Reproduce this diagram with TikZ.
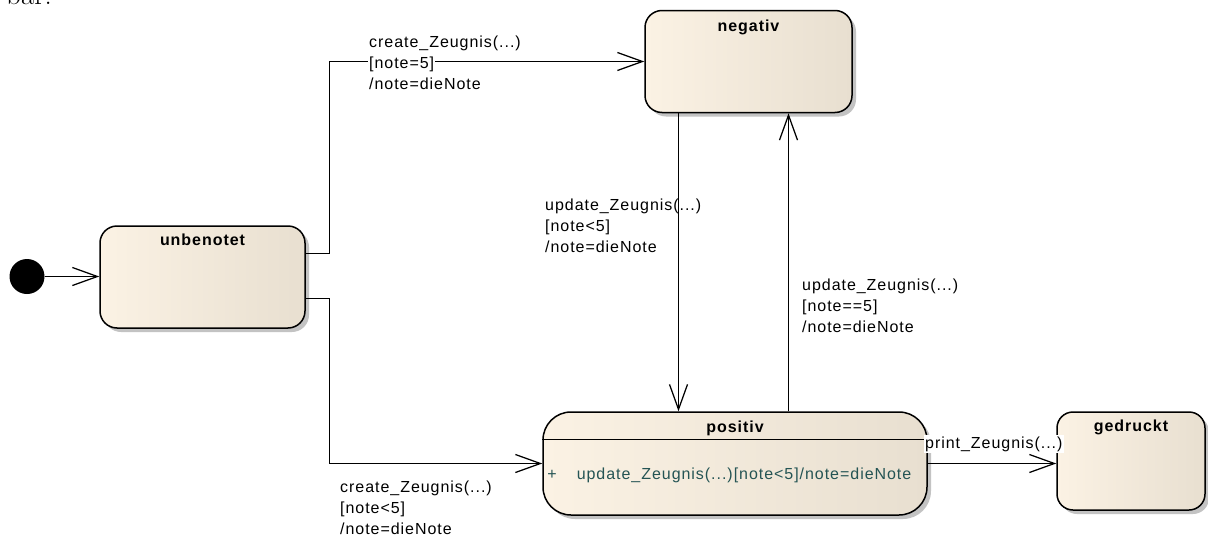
\documentclass[tikz,border=0pt]{standalone}
\usepackage{fontspec}
\setmainfont{Liberation Sans}[LetterSpace=6]
\usetikzlibrary{arrows.meta,shadows}

\definecolor{stateL}{RGB}{251,242,228}
\definecolor{stateR}{RGB}{232,223,208}
\definecolor{shadowgray}{RGB}{195,195,195}
\definecolor{opteal}{RGB}{36,84,84}

\begin{document}
\begin{tikzpicture}[
  x=1pt, y=-1pt,
  font=\fontsize{16}{21}\selectfont,
  state/.style={draw=black, line width=1.5pt, rounded corners=#1,
    left color=stateL, right color=stateR, inner sep=0pt,
    drop shadow={shadow xshift=4pt, shadow yshift=-4pt, fill=shadowgray, opacity=1}},
  title/.style={font=\fontsize{16}{20}\selectfont\bfseries, inner sep=0pt,
    text height=11.5pt, text depth=3pt},
  tr/.style={draw=black, line width=1.25pt, -{Straight Barb[length=25pt,width=18pt]}},
  guard/.style={align=left, anchor=north west, inner sep=0pt},
]
\useasboundingbox (0,0) rectangle (1208,538);

% running text of the page above the figure
\node[anchor=base west, inner sep=0pt, font=\fontfamily{lmr}\fontsize{29}{30}\selectfont] (bar) at (6,5) {bar.};

% initial pseudo state
\fill[black] (27,276.5) circle (17.5pt);
\coordinate (init) at (44.5,276.5);

% states
\node[state=17pt, minimum width=205pt, minimum height=102pt] (unb) at (202.5,277) {};
\node[state=17pt, minimum width=207pt, minimum height=102pt] (neg) at (748.5,61.5) {};
\node[state=28pt, minimum width=384pt, minimum height=103pt] (pos) at (735,463.5) {};
\node[state=16pt, minimum width=148pt, minimum height=98pt] (ged) at (1131,461) {};

\node[title] (unbT) at ([yshift=-16pt]unb.north) {unbenotet};
\node[title] (negT) at ([yshift=-17pt]neg.north) {negativ};
\node[title] (posT) at ([yshift=-17pt]pos.north) {positiv};
\node[title] (gedT) at ([yshift=-16pt]ged.north) {gedruckt};

% compartment of the state positiv
\draw[line width=1.3pt] ([yshift=-28pt]pos.north west) -- ([yshift=-28pt]pos.north east);
\node[anchor=west, inner sep=0pt, text=opteal] (posOp) at ([xshift=5pt,yshift=-11.5pt]pos.west)
  {+\hspace{20pt}update\_Zeugnis(...)[note<5]/note=dieNote};

% transitions
\coordinate (xl) at (678.5,0);
\coordinate (xr) at (788.5,0);
\draw[tr] (init) -- (init -| unb.west);
\draw[tr] ([yshift=23.5pt]unb.east) -- ++(24,0) |- (neg.west);
\draw[tr] ([yshift=-21.5pt]unb.east) -- ++(24,0) |- (pos.west);
\draw[tr] (neg.south -| xl) -- (pos.north -| xl);
\draw[tr] (pos.north -| xr) -- (neg.south -| xr);
\draw[tr] (pos.east) -- (pos.east -| ged.west);

% transition labels
\node[guard] (l1) at (369,35.5)
  {create\_Zeugnis(...)\\\hspace*{-1pt}{\setlength{\fboxsep}{1pt}\colorbox{white}{[note=5]}}\\/note=dieNote};
\node[guard] (l2) at (340,480.5)
  {create\_Zeugnis(...)\\{}[note<5]\\/note=dieNote};
\node[guard] (l3) at (545,198.5)
  {update\_Zeugnis(...)\\{}[note<5]\\/note=dieNote};
\node[guard] (l4) at (802,278.5)
  {update\_Zeugnis(...)\\{}[note==5]\\/note=dieNote};
\node[anchor=north west, fill=white, inner sep=1.5pt] (l5) at (923.5,435) {print\_Zeugnis(...)};
\end{tikzpicture}
\end{document}
